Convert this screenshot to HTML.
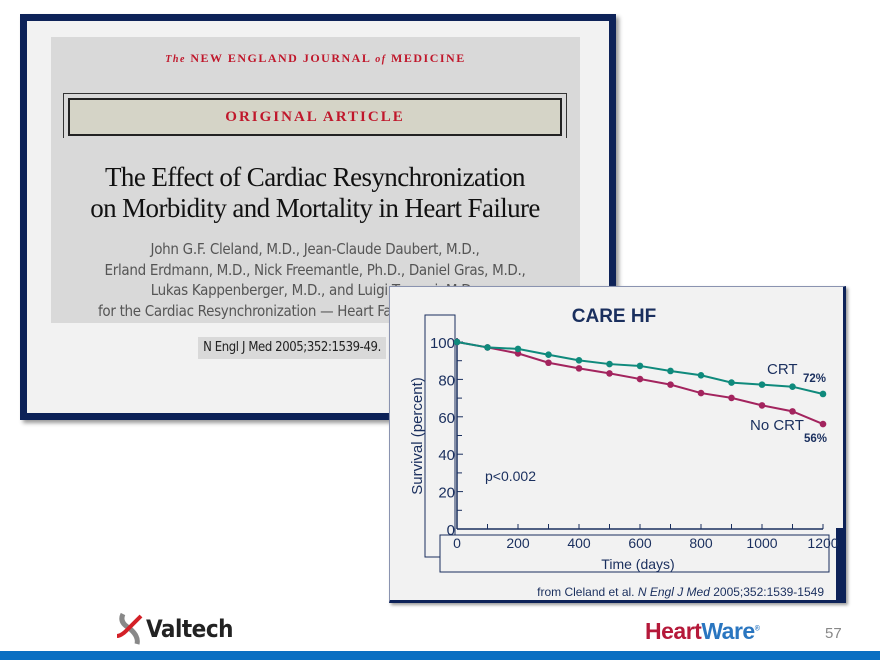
<!DOCTYPE html>
<html><head><meta charset="utf-8"><style>
body{margin:0;width:880px;height:660px;position:relative;background:#fff;overflow:hidden;font-family:"Liberation Sans",sans-serif}
.a{position:absolute}
.serif{font-family:"Liberation Serif",serif}
.ctr{text-align:center}
</style></head><body>
<div class="a" style="left:20px;top:14px;width:582px;height:392px;border:7px solid #0d2258;background:#f2f2f2;box-shadow:3px 3px 4px #999"></div>
<div class="a" style="left:51px;top:37px;width:529px;height:286px;background:#d9d9d9"></div>
<div class="a serif ctr" style="left:51px;top:51px;width:529px;font-size:12px;letter-spacing:1.5px;color:#c0172b;font-weight:bold"><i style="font-size:10px">The</i> NEW ENGLAND JOURNAL <i style="font-size:10px">of</i> MEDICINE</div>
<div class="a" style="left:63px;top:93px;width:502px;height:44px;border:1px solid #333;border-bottom:none"></div>
<div class="a serif ctr" style="left:68px;top:98px;width:490px;height:34px;border:2px solid #222;background:#d5d4c7;color:#c0172b;font-size:15px;letter-spacing:2px;line-height:34px;font-weight:bold">ORIGINAL ARTICLE</div>
<div class="a serif ctr" style="left:35px;top:162px;width:560px;font-size:27px;line-height:31px;color:#111;letter-spacing:-0.6px">The Effect of Cardiac Resynchronization<br>on Morbidity and Mortality in Heart Failure</div>
<div class="a ctr" style="left:20px;top:239px;width:590px;font-size:15px;line-height:20.5px;color:#555;font-family:'DejaVu Sans Condensed','Liberation Sans Narrow',sans-serif;letter-spacing:-0.3px">John G.F. Cleland, M.D., Jean-Claude Daubert, M.D.,<br>Erland Erdmann, M.D., Nick Freemantle, Ph.D., Daniel Gras, M.D.,<br>Lukas Kappenberger, M.D., and Luigi Tavazzi, M.D.,<br>for the Cardiac Resynchronization — Heart Failure (CARE-HF) Study</div>
<div class="a" style="left:198px;top:337px;width:188px;height:22px;background:#d9d9d9;font-size:13px;line-height:22px;text-align:center;color:#222;font-family:'DejaVu Sans Condensed',sans-serif;white-space:nowrap;letter-spacing:-0.4px">N Engl J Med 2005;352:1539-49.</div>

<div class="a" style="left:389px;top:286px;width:453px;height:313px;border:1px solid #8a93b0;border-right:3px solid #0d2258;border-bottom:3px solid #0d2258;background:#f2f2f2;box-shadow:2px 2px 3px #999"></div>
<div class="a" style="left:836px;top:528px;width:8px;height:72px;background:#0d2258"></div>
<svg class="a" style="left:0;top:0" width="880" height="660">
<text x="614" y="322" text-anchor="middle" font-size="19" font-weight="bold" fill="#1a2f5e">CARE HF</text>
<rect x="425" y="315" width="30" height="242" fill="none" stroke="#1a2f5e"/>
<rect x="440" y="535" width="389" height="37" fill="#f2f2f2" stroke="#1a2f5e"/>
<text transform="translate(422,436) rotate(-90)" text-anchor="middle" font-size="15" fill="#1a2f5e">Survival (percent)</text>
<text x="638" y="569" text-anchor="middle" font-size="14" fill="#1a2f5e">Time (days)</text>
<g id="axes"></g><g id="series"></g>
<text x="485" y="481" font-size="14" fill="#1a2f5e">p&lt;0.002</text>
<text x="767" y="374" font-size="15" fill="#1a2f5e">CRT</text>
<text x="803" y="382" font-size="11.5" font-weight="bold" fill="#1a2f5e">72%</text>
<text x="750" y="430" font-size="15" fill="#1a2f5e">No CRT</text>
<text x="804" y="442" font-size="11.5" font-weight="bold" fill="#1a2f5e">56%</text>
<text x="824" y="596" text-anchor="end" font-size="12" fill="#1a2f5e">from Cleland et al. <tspan font-style="italic">N Engl J Med</tspan> 2005;352:1539-1549</text>
</svg>
<div class="a" style="left:113px;top:610px;width:130px;height:36px">
<svg width="40" height="36" class="a" style="left:0;top:0"><path d="M10 4 Q6 12 16 18 Q26 26 24 34" stroke="#888" stroke-width="5" fill="none"/><path d="M28 6 Q20 14 14 20 Q8 26 4 26" stroke="#d32027" stroke-width="4" fill="none"/></svg>
<span class="a" style="left:33px;top:5px;font-size:24px;color:#222;letter-spacing:-0.5px;font-family:'DejaVu Sans Condensed',sans-serif;font-weight:bold">Valtech</span></div>
<div class="a" style="left:645px;top:618px;font-size:23px;font-weight:bold;letter-spacing:-0.5px"><span style="color:#b5193a">Heart</span><span style="color:#2a76c0">Ware</span><sup style="font-size:7px;color:#2a76c0">®</sup></div>
<div class="a" style="left:825px;top:625px;font-size:15px;color:#888">57</div>
<div class="a" style="left:0;top:651px;width:880px;height:9px;background:#0a6fc2"></div>
<script>
const days=[0,100,200,300,400,500,600,700,800,900,1000,1100,1200];
const crt=[100,97.1,96.3,93.2,90.2,88.2,87.2,84.5,82.2,78.3,77.2,76.1,72.2];
const noCrt=[100,97.1,93.9,88.9,85.9,83.2,80.2,77.2,72.7,70.1,66.1,62.9,56.1];
const yTicks=[0,20,40,60,80,100];
const xTicks=[0,200,400,600,800,1000,1200];
const NS="http://www.w3.org/2000/svg";
const X=d=>457+d*(823-457)/1200, Y=v=>529-v*(529-342)/100;
const ax=document.getElementById('axes'), se=document.getElementById('series');
function mk(tag,at,p){const e=document.createElementNS(NS,tag);for(const k in at)e.setAttribute(k,at[k]);p.appendChild(e);return e;}
let l=mk('line',{x1:457,y1:Y(100)-4,x2:457,y2:529,stroke:'#1a2f5e','stroke-width':1.5},ax);


l=mk('line',{x1:457,y1:529,x2:X(1200),y2:529,stroke:'#1a2f5e','stroke-width':1.5},ax);


for(let v=0;v<=100;v+=10){mk('line',{x1:457,y1:Y(v),x2:v%20?462:463,y2:Y(v),stroke:'#1a2f5e'},ax);}
yTicks.forEach(v=>{const t=mk('text',{x:455,y:Y(v)+6,'text-anchor':'end','font-size':15,fill:'#1a2f5e'},ax);t.textContent=v;

});
days.forEach(d=>{mk('line',{x1:X(d),y1:529,x2:X(d),y2:524,stroke:'#1a2f5e'},ax);});
xTicks.forEach(d=>{const t=mk('text',{x:X(d),y:548,'text-anchor':'middle','font-size':14,fill:'#1a2f5e'},ax);t.textContent=d;

});
function series(vals,color,name){
 const p=mk('polyline',{points:vals.map((v,i)=>X(days[i])+','+Y(v)).join(' '),fill:'none',stroke:color,'stroke-width':2},se);
 
 
 vals.forEach((v,i)=>{const c=mk('circle',{cx:X(days[i]),cy:Y(v),r:3.3,fill:color},se);
 
 });
}
series(noCrt,'#a3245e','no-crt');
series(crt,'#0f8a7c','crt');
</script>
</body></html>
